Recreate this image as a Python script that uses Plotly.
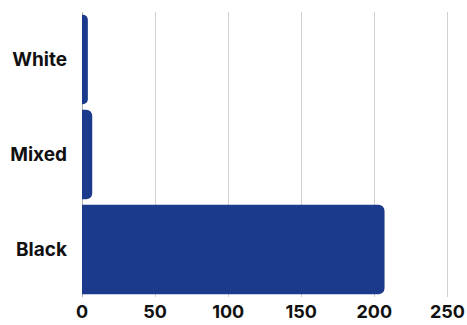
import plotly.graph_objects as go

categories = ["White", "Mixed", "Black"]
values = [4, 7, 207]
tick_vals = [0, 50, 100, 150, 200, 250]

fig = go.Figure(go.Bar(
    x=values,
    y=categories,
    orientation="h",
    marker=dict(color="#1c3a8b", line=dict(width=0)),
))

fig.update_layout(
    width=467, height=325,
    margin=dict(l=82, r=5, t=12, b=28, autoexpand=False),
    paper_bgcolor="white", plot_bgcolor="white",
    bargap=0.06,
    barcornerradius=6,
    showlegend=False,
    font=dict(family="Inter", color="#111111"),
)
fig.update_xaxes(
    range=[0, 260],
    tickvals=tick_vals,
    automargin=False,
    showgrid=True, gridcolor="#cfcfcf", gridwidth=1,
    zeroline=True, zerolinecolor="#b0b0b0", zerolinewidth=1,
    tickfont=dict(size=18, family="Inter", weight="bold", color="#111111"),
    ticklabelstandoff=2,
)
fig.update_yaxes(
    categoryorder="array", categoryarray=categories[::-1],
    automargin=False,
    showgrid=False,
    tickfont=dict(size=19, family="Inter", weight="bold", color="#111111"),
    ticklabelstandoff=14,
)
fig.write_html("out.html")
